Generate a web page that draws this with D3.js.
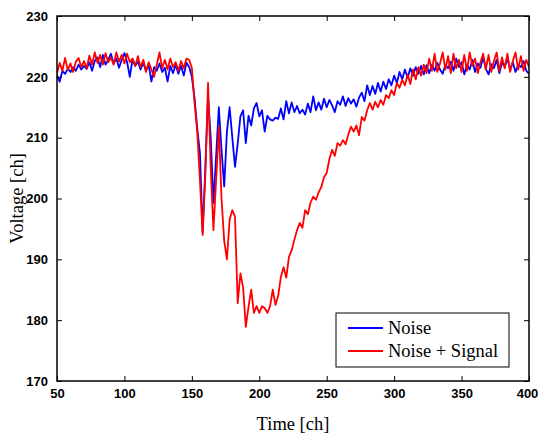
<!DOCTYPE html>
<html>
<head>
<meta charset="utf-8">
<script src="https://cdn.jsdelivr.net/npm/d3@7"></script>
<style>
  html, body { margin: 0; padding: 0; background: #fff; }
  svg { display: block; }
</style>
</head>
<body>
<svg id="chart" width="539" height="434"></svg>
<script>
// channel axis (every 2nd channel, 50..400)
const channels = d3.range(50, 401, 2);

const noise = [
  220.3, 219.2, 221.0, 220.5, 221.3,
  220.8, 221.6, 221.0, 222.0, 221.2,
  221.8, 221.3, 222.4, 221.0, 222.6,
  223.2, 221.6, 223.6, 222.0, 222.8,
  223.8, 222.2, 223.0, 221.5, 222.8,
  223.9, 222.4, 220.0, 222.9, 221.8,
  222.5, 221.2, 222.3, 221.0, 222.0,
  219.2, 221.6, 221.0, 222.2, 220.8,
  221.5, 219.2, 221.8, 220.6, 222.0,
  220.5, 221.8, 220.2, 222.3, 221.6,
  220.0, 216.5, 211.5, 207.5, 194.5,
  205.0, 216.8, 210.0, 199.3, 207.0,
  215.0, 208.0, 202.0, 211.0, 215.0,
  210.0, 205.2, 209.0, 213.5, 214.5,
  209.1, 213.6, 212.0, 214.8, 215.7,
  213.5, 214.5, 211.0, 213.6, 213.0,
  212.8, 213.3, 213.1, 214.8, 213.0,
  216.0, 214.0, 215.8, 214.2, 215.2,
  214.0, 214.6, 213.8, 215.6, 214.2,
  216.8, 214.5, 215.8, 214.6, 216.4,
  215.0, 216.2, 215.3, 214.2, 216.0,
  215.4, 216.8, 215.2, 216.5, 215.6,
  216.3, 215.1, 216.6, 217.4, 216.0,
  218.6, 217.0, 218.5, 217.2, 219.0,
  217.6, 219.2, 218.0, 219.6, 218.6,
  220.2, 219.0, 220.8, 219.6, 221.2,
  219.8, 221.4, 220.2, 221.6, 220.5,
  221.8, 220.4, 221.9, 220.6, 222.0,
  221.0, 222.3, 221.2, 220.5, 222.0,
  221.4, 222.5, 221.0, 223.0, 221.6,
  222.4, 220.4, 222.0, 221.2, 222.8,
  220.8, 222.2, 221.5, 223.2, 221.3,
  220.4, 222.1, 221.4, 222.8, 220.6,
  222.3, 221.7, 223.0, 221.2, 222.4,
  220.8, 222.0, 221.6, 222.6, 221.0,
  220.5
];

const noiseSignal = [
  220.6, 222.3, 221.0, 223.1, 221.1,
  222.2, 220.8, 222.5, 223.1, 221.6,
  222.6, 221.4, 223.5, 222.0, 224.0,
  222.3, 223.6, 222.0, 223.9, 222.4,
  223.2, 222.0, 224.0, 222.5, 223.6,
  222.2, 223.8, 222.4, 223.0, 221.8,
  223.4, 221.6, 222.8, 220.8, 222.4,
  221.2, 220.0, 222.0, 224.0, 221.4,
  222.8, 221.2, 223.0, 221.6, 222.4,
  221.0, 222.6, 221.4, 223.0, 222.8,
  221.5, 215.7, 211.0, 203.0, 194.0,
  204.0, 219.0, 205.0, 194.8, 203.0,
  211.8, 200.0, 193.0, 190.0, 196.5,
  198.1, 197.0, 182.8, 187.7, 185.4,
  178.9, 182.2, 185.0, 181.2, 182.3,
  181.2, 182.3, 182.0, 181.2, 182.3,
  185.0, 182.5, 184.0, 187.1, 188.7,
  187.0, 190.4, 191.5, 193.2, 194.8,
  196.0, 195.2, 198.1, 197.4, 199.3,
  200.3, 199.8, 201.0, 201.9, 203.5,
  204.2, 206.5, 208.0, 207.0, 209.1,
  208.7, 209.6, 208.9, 210.5, 211.8,
  211.0, 212.0, 210.4, 213.4, 212.8,
  214.5, 215.7, 214.6, 215.9, 215.0,
  216.2, 215.4, 217.0, 216.5, 217.8,
  217.0, 219.0, 218.2, 219.5, 218.6,
  220.4, 218.8, 221.2, 219.6, 221.6,
  220.2, 222.0, 220.6, 223.0, 221.0,
  223.8, 220.8, 222.2, 224.0, 221.2,
  223.4, 220.6, 223.8, 221.4, 222.8,
  220.8, 223.6, 221.0, 224.0, 221.8,
  223.0, 220.6, 222.4, 223.8, 221.2,
  223.6, 220.8, 222.6, 224.0, 221.0,
  223.2, 221.4, 223.8, 220.8, 222.6,
  224.0, 221.2, 223.4, 221.0, 222.8,
  221.6
];

const xTicks = [50, 100, 150, 200, 250, 300, 350, 400];
const yTicks = [170, 180, 190, 200, 210, 220, 230];
const seriesNames = ["Noise", "Noise + Signal"];
const seriesColors = ["#0000ff", "#ff0000"];
const xLabel = "Time [ch]";
const yLabel = "Voltage [ch]";

const svg = d3.select("#chart");
const m = { left: 57, right: 529, top: 16, bottom: 381 };

const x = d3.scaleLinear().domain([50, 400]).range([m.left, m.right]);
const y = d3.scaleLinear().domain([170, 230]).range([m.bottom, m.top]);

const tickFont = "'Liberation Sans', Arial, sans-serif";
const serif = "'Liberation Serif', 'Times New Roman', serif";

const plot = svg.append("g");
plot.append("clipPath").attr("id", "clip")
  .append("rect").attr("x", m.left).attr("y", m.top)
  .attr("width", m.right - m.left).attr("height", m.bottom - m.top);

const line = d3.line().x((d, i) => x(channels[i])).y(d => y(d));

const series = [noise, noiseSignal];
series.forEach((s, k) => {
  plot.append("path")
    .datum(s)
    .attr("clip-path", "url(#clip)")
    .attr("fill", "none")
    .attr("stroke", seriesColors[k])
    .attr("stroke-width", 1.8)
    .attr("stroke-linejoin", "round")
    .attr("d", line);
});

// axes (ticks inside, mirrored)
function styleAxis(g) {
  g.select(".domain").remove();
  g.selectAll(".tick line").attr("stroke", "#000").attr("stroke-width", 1);
  g.selectAll("text")
    .attr("font-family", tickFont)
    .attr("font-weight", "bold")
    .attr("font-size", 13)
    .attr("fill", "#000");
}
const tl = 5;
const xAxisG = svg.append("g").attr("transform", `translate(0,${m.bottom})`)
  .call(d3.axisBottom(x).tickValues(xTicks).tickSize(-tl).tickPadding(8).tickFormat(d3.format("d")))
  .call(styleAxis);
// keep the last label inside the canvas
xAxisG.selectAll(".tick text").filter(d => d === 400).attr("dx", -2);

svg.append("g").attr("transform", `translate(0,${m.top})`)
  .call(d3.axisTop(x).tickValues(xTicks).tickSize(-tl).tickFormat(""))
  .call(styleAxis);
svg.append("g").attr("transform", `translate(${m.left},0)`)
  .call(d3.axisLeft(y).tickValues(yTicks).tickSize(-tl).tickPadding(9).tickFormat(d3.format("d")))
  .call(styleAxis);
svg.append("g").attr("transform", `translate(${m.right},0)`)
  .call(d3.axisRight(y).tickValues(yTicks).tickSize(-tl).tickFormat(""))
  .call(styleAxis);

// frame
svg.append("rect")
  .attr("x", m.left).attr("y", m.top)
  .attr("width", m.right - m.left).attr("height", m.bottom - m.top)
  .attr("fill", "none").attr("stroke", "#000").attr("stroke-width", 1.5);

// axis titles
svg.append("text")
  .attr("x", 293).attr("y", 430)
  .attr("text-anchor", "middle")
  .attr("font-family", serif).attr("font-size", 18.5)
  .text(xLabel);
svg.append("text")
  .attr("transform", `translate(23,${(m.top + m.bottom) / 2}) rotate(-90)`)
  .attr("text-anchor", "middle")
  .attr("font-family", serif).attr("font-size", 18.5)
  .text(yLabel);

// legend
const lg = svg.append("g");
lg.append("rect")
  .attr("x", 336).attr("y", 313).attr("width", 173).attr("height", 54)
  .attr("fill", "#fff").attr("stroke", "#000").attr("stroke-width", 1);
seriesNames.forEach((name, k) => {
  const yy = 328 + k * 23;
  lg.append("line")
    .attr("x1", 348).attr("x2", 383).attr("y1", yy).attr("y2", yy)
    .attr("stroke", seriesColors[k]).attr("stroke-width", 2);
  lg.append("text")
    .attr("x", 388).attr("y", yy + 6)
    .attr("font-family", serif).attr("font-size", 18.5)
    .text(name);
});
</script>
</body>
</html>
